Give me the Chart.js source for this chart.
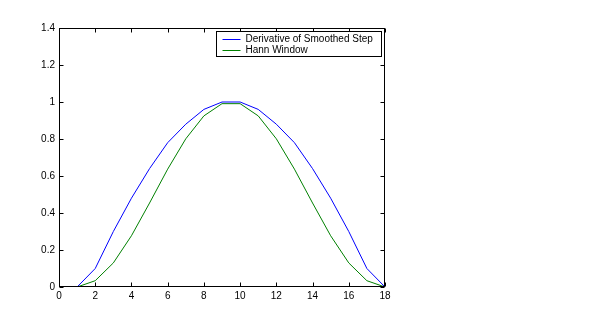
<!DOCTYPE html>
<html>
<head>
<meta charset="utf-8">
<script src="https://cdn.jsdelivr.net/npm/chart.js@4"></script>
<style>
  html, body { margin: 0; padding: 0; background: #fff; }
  #grafico { display: block; }
</style>
</head>
<body>
<canvas id="grafico" width="601" height="323"></canvas>
<script>
const amostras = [1, 2, 3, 4, 5, 6, 7, 8, 9, 10, 11, 12, 13, 14, 15, 16, 17, 18];
const derivada = [0, 0.1, 0.3, 0.48, 0.64, 0.78, 0.88, 0.96, 1, 1, 0.96, 0.88, 0.78, 0.64, 0.48, 0.3, 0.1, 0];
const hann = [0, 0.034, 0.13, 0.277, 0.454, 0.637, 0.801, 0.925, 0.991, 0.991, 0.925, 0.801, 0.637, 0.454, 0.277, 0.13, 0.034, 0];
const ticksX = [0, 2, 4, 6, 8, 10, 12, 14, 16, 18];
const ticksY = [0, 0.2, 0.4, 0.6, 0.8, 1, 1.2, 1.4];
const nomes = ["Derivative of Smoothed Step", "Hann Window"];
const cores = ["#0000ff", "#008000"];

const fonte = { family: "'Liberation Sans', Arial, Helvetica, sans-serif", size: 10 };

function pontos(ys) {
    return amostras.map((x, i) => ({ x: x, y: ys[i] }));
}

// moldura com marcas de escala para dentro, nos quatro lados
const moldura = {
    id: "moldura",
    afterDatasetsDraw(chart) {
        const ctx = chart.ctx;
        const a = chart.chartArea;
        const sx = chart.scales.x, sy = chart.scales.y;
        const L = Math.round(a.left) + 0.5, R = Math.round(a.right) - 0.5;
        const T = Math.round(a.top) + 0.5, B = Math.round(a.bottom) - 0.5;
        ctx.save();
        ctx.strokeStyle = "#000";
        ctx.lineWidth = 1;
        ctx.strokeRect(L, T, R - L, B - T);
        ctx.beginPath();
        ticksX.forEach(v => {
            const px = Math.round(sx.getPixelForValue(v)) + 0.5;
            ctx.moveTo(px, B); ctx.lineTo(px, B - 4);
            ctx.moveTo(px, T); ctx.lineTo(px, T + 4);
        });
        ticksY.forEach(v => {
            const py = Math.round(sy.getPixelForValue(v)) + 0.5;
            ctx.moveTo(L, py); ctx.lineTo(L + 4, py);
            ctx.moveTo(R, py); ctx.lineTo(R - 4, py);
        });
        ctx.stroke();
        ctx.restore();
    }
};

// legenda dentro da área do gráfico, no canto superior direito
const legenda = {
    id: "legenda",
    afterDraw(chart) {
        const ctx = chart.ctx;
        const a = chart.chartArea;
        const x0 = Math.round(a.right) - 3.5, y0 = Math.round(a.top) + 3.5;
        const w = 165, h = 25;
        ctx.save();
        ctx.fillStyle = "#fff";
        ctx.fillRect(x0 - w, y0, w, h);
        ctx.strokeStyle = "#000";
        ctx.lineWidth = 1;
        ctx.strokeRect(x0 - w, y0, w, h);
        ctx.font = fonte.size + "px " + fonte.family;
        ctx.textBaseline = "middle";
        chart.data.datasets.forEach((ds, i) => {
            const y = Math.round(y0 + 7 + i * 11.5) + 0.5;
            ctx.strokeStyle = ds.borderColor;
            ctx.beginPath();
            ctx.moveTo(x0 - w + 6, y);
            ctx.lineTo(x0 - w + 24, y);
            ctx.stroke();
            ctx.fillStyle = "#000";
            ctx.fillText(ds.label, x0 - w + 29, y);
        });
        ctx.restore();
    }
};

new Chart(document.getElementById("grafico"), {
    type: "line",
    data: {
        datasets: [
            { label: nomes[0], data: pontos(derivada), borderColor: cores[0], borderWidth: 1, pointRadius: 0, tension: 0 },
            { label: nomes[1], data: pontos(hann), borderColor: cores[1], borderWidth: 1, pointRadius: 0, tension: 0 }
        ]
    },
    options: {
        responsive: false,
        animation: false,
        layout: { padding: { left: 0, top: 28, right: 216, bottom: 0 } },
        plugins: { legend: { display: false }, tooltip: { enabled: false } },
        scales: {
            x: {
                type: "linear",
                min: 0, max: 18,
                afterBuildTicks: s => { s.ticks = ticksX.map(v => ({ value: v })); },
                afterFit: s => { s.height = 36; },
                grid: { display: false, drawTicks: false },
                border: { display: false },
                ticks: { color: "#000", font: fonte, padding: 3, maxRotation: 0, autoSkip: false, callback: v => String(v) }
            },
            y: {
                min: 0, max: 1.4,
                afterBuildTicks: s => { s.ticks = ticksY.map(v => ({ value: v })); },
                afterFit: s => { s.width = 59; },
                grid: { display: false, drawTicks: false },
                border: { display: false },
                ticks: { color: "#000", font: fonte, padding: 4, autoSkip: false, callback: v => String(v) }
            }
        }
    },
    plugins: [moldura, legenda]
});
</script>
</body>
</html>
